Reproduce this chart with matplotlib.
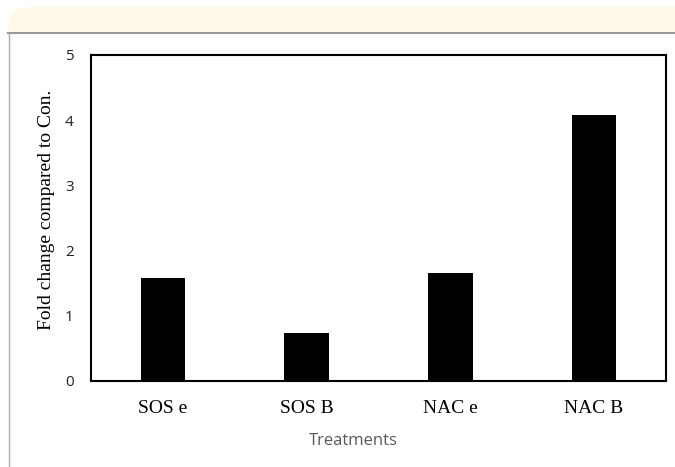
import matplotlib
matplotlib.use("Agg")
import matplotlib.pyplot as plt
from matplotlib.patches import FancyBboxPatch

treatments = ["SOS e", "SOS B", "NAC e", "NAC B"]
fold_change = [1.58, 0.74, 1.66, 4.08]
yticks = [0, 1, 2, 3, 4, 5]

W, H = 675, 467
fig = plt.figure(figsize=(W / 100, H / 100), dpi=100)

# page decoration: cream header band, grey rule and left border
band = FancyBboxPatch((8 / W, 1 - 60 / H), 700 / W, 53 / H,
                      boxstyle="round,pad=0,rounding_size=%f" % (22 / W),
                      mutation_aspect=W / H,
                      transform=fig.transFigure, facecolor="#fffae8",
                      edgecolor="none", zorder=-3)
fig.patches.append(band)
fig.patches.append(plt.Rectangle((0, 0), 1, 1 - 33 / H, transform=fig.transFigure,
                                 facecolor="white", edgecolor="none", zorder=-2))
fig.lines.append(plt.Line2D([8 / W, 1], [1 - 33 / H] * 2, transform=fig.transFigure,
                            color="#999999", linewidth=1.5, zorder=-1))
fig.lines.append(plt.Line2D([8.5 / W] * 2, [0, 1 - 33 / H], transform=fig.transFigure,
                            color="#aaaaaa", linewidth=1, zorder=-1))

ax = fig.add_axes([91 / W, 1 - 381 / H, (666 - 91) / W, (381 - 55) / H])
x = range(len(treatments))
ax.bar(x, fold_change, width=0.31, color="black")
ax.set_xlim(-0.5, len(treatments) - 0.5)
ax.set_ylim(0, 5)
ax.set_yticks(yticks)
ax.set_xticks(list(x))
ax.set_xticklabels(treatments, fontfamily="Liberation Serif", fontsize=14)
ax.set_yticklabels([str(t) for t in yticks], fontfamily="Open Sans", fontsize=11, color="#222222")
ax.tick_params(length=0)
ax.tick_params(axis="x", pad=13.5)
ax.tick_params(axis="y", pad=12.5)
for s in ax.spines.values():
    s.set_linewidth(1.5)
ax.set_ylabel("Fold change compared to Con.", fontfamily="Liberation Serif", fontsize=14, labelpad=7)
ax.yaxis.label.set_y(0.525)

fig.text(353 / W, 1 - 441 / H, "Treatments", ha="center", va="center",
         fontfamily="Open Sans", fontsize=12, color="#595959")

fig.savefig("out.png", dpi=100)
